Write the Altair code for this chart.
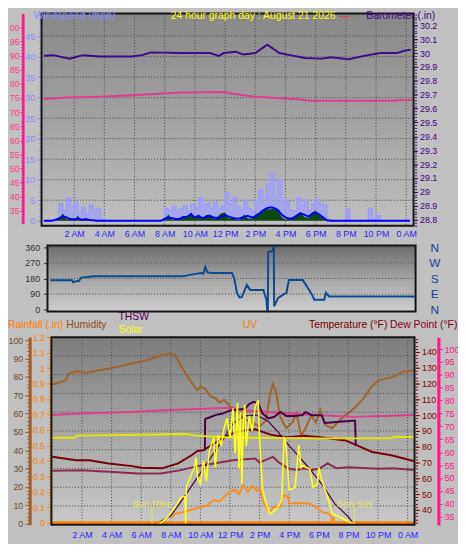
import altair as alt
import pandas as pd

FONT = "Liberation Sans"
W, H = 456, 536          # whole drawing (autosize none, padding 0)
M = 8                    # page margin: page coordinate = chart coordinate + 8

# ---------------- data ----------------
TICK_HOURS = [2, 4, 6, 8, 10, 12, 14, 16, 18, 20, 22, 24]

# top panel ------------------------------------------------------------
BARO_T = [0, 0.6, 1.7, 2.6, 3.7, 5.8, 6.5, 7.1, 9.0, 11.0, 11.6, 11.9, 12.7, 13.2, 14.0,
          14.8, 15.6, 16.3, 17.3, 18.4, 19.0, 20.2, 21.2, 22.3, 23.4, 23.8, 24.3]
BARO_V = [29.98, 29.985, 29.96, 29.985, 29.975, 29.975, 29.985, 30.005, 30.0, 30.0, 29.98,
          30.0, 30.01, 29.99, 30.0, 30.06, 30.0, 29.985, 29.965, 29.96, 29.97, 29.955, 29.98,
          30.0, 30.0, 30.015, 30.025]

PINK_T = [0, 1.5, 3.6, 5.8, 7.3, 9.1, 12.0, 12.5, 14.0, 16.6, 17.7, 22.3, 24.4]
PINK_V = [74.6, 75.2, 75.4, 76.0, 76.4, 76.9, 77.1, 76.5, 75.4, 74.6, 74.0, 74.0, 74.3]

# wind, one value per quarter hour
GUST = [0, 0, 0, 0.5, 4.2, 2.5, 5.5, 3.5, 4.5, 2.0, 3.2, 1.5, 3.8, 2.6, 3.0, 0.5,
        0, 0, 0, 0, 0, 0, 0, 0, 0, 0, 0, 0, 0, 0, 0, 0,
        3.0, 2.5, 3.4, 2.2, 2.8, 3.6, 2.4, 4.0, 3.2, 5.5, 3.8, 4.2, 3.0, 4.5, 2.8, 3.6,
        6.8, 4.0, 5.6, 3.5, 2.6, 4.8, 3.0, 2.4, 5.0, 7.5, 4.2, 9.0, 11.4, 6.0, 10.0, 5.0,
        4.8, 2.6, 2.4, 5.5, 3.5, 5.0, 2.5, 4.0, 5.2, 4.0, 3.8, 0.3, 0, 0, 0, 0,
        2.8, 0, 0, 0, 0, 0, 3.0, 0.5, 1.2, 0, 0, 0, 0, 0, 0, 0, 0, 0]
SPEED = [0, 0, 0, 0, 0.5, 1.8, 0.3, 0.6, 0, 1.2, 0, 0.5, 0, 0, 0, 0,
         0, 0, 0, 0, 0, 0, 0, 0, 0, 0, 0, 0, 0, 0, 0, 0,
         0.4, 1.5, 0.2, 0.6, 0.3, 1.2, 0.8, 2.0, 0.5, 1.6, 0.3, 1.4, 1.5, 0.4, 1.0, 1.8,
         2.0, 0.5, 1.0, 0.2, 0.3, 1.5, 0.6, 0.4, 1.5, 2.0, 2.6, 2.8, 2.8, 3.0, 2.5, 1.0,
         0.3, 0.5, 1.0, 1.5, 2.2, 1.0, 0.6, 2.0, 2.5, 1.2, 0.5, 0, 0, 0, 0, 0,
         0, 0, 0, 0, 0, 0, 0, 0, 0, 0, 0, 0, 0, 0, 0, 0, 0, 0]
AVG = [0, 0, 0, 0.2, 0.6, 1.0, 0.8, 0.4, 0.3, 0.6, 0.2, 0.4, 0.2, 0.1, 0, 0,
       0, 0, 0, 0, 0, 0, 0, 0, 0, 0, 0, 0, 0, 0, 0, 0,
       0.5, 0.8, 0.6, 0.4, 0.5, 0.9, 1.0, 1.6, 0.8, 1.2, 0.6, 0.9, 1.2, 0.8, 0.7, 1.0,
       1.4, 1.0, 0.7, 0.5, 0.6, 0.9, 1.2, 0.8, 1.0, 1.6, 2.5, 3.0, 3.3, 3.1, 2.6, 1.5,
       0.8, 0.5, 0.6, 1.2, 1.8, 1.5, 1.0, 1.6, 2.0, 1.5, 0.8, 0.1, 0, 0, 0, 0,
       0, 0, 0, 0, 0, 0, 0, 0, 0, 0, 0, 0, 0, 0, 0, 0, 0, 0]

# middle panel: wind direction (degrees)
DIR_T = [0.04, 1.49, 1.56, 1.82, 1.96, 2.09, 2.49, 2.95, 8.9, 9.23, 9.69, 10.15, 10.28, 10.41,
         10.55, 10.88, 12.2, 12.35, 12.53, 12.7, 12.86, 13.19, 13.41, 14.3, 14.4, 14.5, 14.56,
         14.6, 14.62, 14.91, 15.0, 15.02, 15.29, 15.6, 15.84, 16.01, 16.94, 17.1, 17.27, 17.5,
         17.71, 18.37, 18.48, 18.7, 24.43]
DIR_V = [170, 170, 158, 165, 165, 185, 188, 193, 193, 198, 205, 212, 208, 247,
         215, 212, 211, 180, 97, 70, 72, 143, 114, 114, 86, 60, -10,
         -10, 333, 339, 362, 19, 68, 85, 97, 171, 171, 150, 126, 95,
         57, 57, 97, 76, 76]

# bottom panel ----------------------------------------------------------
HUM_T = [0, 0.9, 1.1, 1.6, 2.3, 3.1, 4.3, 5.3, 6.3, 7.3, 8.0, 8.3, 8.8, 9.3, 9.8, 10.0, 10.3,
         10.7, 11.0, 11.3, 11.6, 12.0, 12.5, 13.0, 13.5, 14.0, 14.4, 14.7, 14.9, 15.1, 15.4,
         15.8, 16.2, 16.5, 16.8, 17.1, 17.5, 17.8, 18.1, 18.4, 18.9, 19.5, 20.4, 21.0, 21.5,
         22.0, 23.0, 23.7, 24.4]
HUM_V = [75.8, 78.1, 81.7, 83.0, 82.3, 83.5, 85.3, 87.1, 88.9, 91.6, 92.8, 91.6, 84.4, 78.1,
         72.7, 74.7, 73.6, 69.3, 68.5, 66.0, 67.4, 64.0, 61.0, 57.0, 55.0, 53.0, 56.0, 70.0,
         76.0, 72.0, 58.0, 52.0, 55.0, 60.0, 48.0, 52.0, 59.0, 55.0, 62.0, 54.0, 52.0, 57.0,
         63.0, 68.0, 74.0, 78.0, 80.0, 82.8, 83.5]

TEMP_T = [0, 1.6, 2.5, 3.8, 5.4, 6.0, 7.4, 8.5, 9.4, 9.8, 10.2, 10.9, 11.5, 12.2, 13.0, 13.7,
          14.8, 15.9, 17.0, 18.1, 19.8, 20.7, 21.6, 22.9, 24.4]
TEMP_V = [73.6, 71.4, 71.4, 69.4, 67.7, 66.7, 66.3, 69.4, 74.6, 77.3, 77.7, 81.9, 85.5, 88.5,
          90.5, 91.0, 87.5, 86.0, 86.9, 86.0, 84.0, 80.4, 76.7, 74.6, 71.0]

THSW_T = [10.3, 10.32, 10.6, 11.0, 11.5, 12.0, 12.5, 13.0, 13.3, 13.6, 13.9, 14.2, 14.6, 15.0,
          15.4, 15.8, 16.3, 16.9, 17.1, 17.5, 18.2, 18.4, 19.0, 19.6, 20.3, 20.45, 20.5]
THSW_V = [77.7, 97.5, 98.5, 100.0, 101.0, 103.0, 103.5, 104.0, 107.0, 108.5, 107.5, 101.0,
          98.0, 99.0, 102.0, 99.5, 99.5, 100.0, 102.0, 100.0, 100.0, 95.0, 95.5, 96.0, 96.5,
          96.5, 80.5]

DEW_T = [0, 2, 3.8, 5.8, 7.3, 8.6, 9.8, 10.9, 12.2, 13.0, 13.7, 14.0, 14.5, 14.9, 15.3, 16.0,
         16.5, 17.0, 17.5, 18.0, 18.6, 19.2, 20.0, 21.0, 22.0, 23.0, 24.4]
DEW_V = [64.8, 65.1, 64.2, 63.1, 63.1, 65.0, 67.7, 69.4, 71.4, 72.0, 72.5, 70.0, 72.0, 73.6,
         70.0, 66.0, 65.2, 66.3, 65.2, 66.0, 69.4, 66.3, 67.0, 66.5, 66.0, 66.3, 65.2]

PINKB_T = [0, 1.8, 5.3, 7.5, 12.0, 12.9, 14.9, 17.1, 20.4, 24.4]
PINKB_V = [74.4, 75.0, 75.6, 76.3, 77.2, 76.3, 75.4, 74.6, 73.7, 74.4]

INHUM_T = [0, 1.5, 1.6, 6.0, 9.1, 9.6, 12.0, 18.0, 22.9, 23.1, 24.4]
INHUM_V = [46.8, 46.8, 48.0, 48.5, 48.9, 48.0, 47.0, 46.5, 46.5, 47.2, 47.2]

SOL_T = [0, 7.2, 7.8, 8.3, 8.7, 8.95, 9.0, 9.05, 9.3, 9.6, 9.7, 9.8, 10.0, 10.2, 10.4, 10.6,
         10.9, 11.0, 11.2, 11.4, 11.6, 11.8, 12.0, 12.2, 12.35, 12.5, 12.6, 12.7, 12.8, 12.9,
         13.0, 13.1, 13.3, 13.5, 13.7, 13.9, 14.0, 14.2, 14.5, 14.7, 14.9, 15.2, 15.5, 15.65,
         15.75, 16.0, 16.4, 16.65, 16.8, 16.9, 17.4, 17.6, 17.9, 18.0, 18.2, 18.7, 18.9, 19.4,
         20.0, 20.4, 24.47]
SOL_V = [0, 0, 42, 95, 147, 150, 5, 200, 250, 305, 358, 252, 216, 342, 231, 394,
         463, 305, 479, 420, 516, 568, 463, 620, 380, 650, 300, 600, 216, 560,
         640, 420, 580, 500, 630, 663, 450, 184, 100, 58, 68, 90, 131, 463,
         450, 184, 200, 426, 305, 316, 295, 200, 216, 305, 237, 121, 58, 42,
         16, 0, 0]

SMAX_T = [6.9, 8.0, 8.9, 9.8, 10.7, 11.6, 12.2, 13.0, 13.8, 14.6, 15.3, 16.0, 16.7, 17.3,
          18.2, 19.1, 20.0, 20.4]
SMAX_V = [0, 47, 147, 252, 358, 463, 540, 580, 585, 550, 490, 420, 360, 305, 216, 110, 42, 0]

UV_T = [8.05, 8.3, 8.9, 9.6, 10.0, 10.4, 10.9, 11.3, 11.6, 12.0, 12.3, 12.6, 12.9, 13.2, 13.5,
        13.8, 14.0, 14.2, 14.4, 14.7, 14.9, 15.4, 15.6, 15.9, 16.0, 16.6, 17.4, 17.8, 18.2,
        18.7, 18.85, 18.9, 19.0, 19.05, 19.5, 20.0]
UV_V = [0.6, 0.93, 1.1, 1.35, 1.5, 1.6, 2.1, 2.0, 2.4, 2.8, 3.0, 2.6, 3.4, 2.8, 3.3,
        2.9, 3.1, 2.1, 1.5, 1.1, 1.5, 1.5, 2.5, 2.4, 1.8, 1.85, 1.8, 1.5, 1.1,
        0.93, 0.67, 0.15, 0.67, 0.15, 0.15, 0.0]

RAIN_T = [0, 24.47]
RAIN_V = [0, 0]

SUN_T = [6.73, 20.4]
SUN_LABEL = ["Sun Rise", "Sun Set"]

# ---------------- helpers ----------------
def xscale(domain, p0, p1):
    return alt.Scale(domain=domain, range=[p0 - M, p1 - M], nice=False, zero=False)


def yscale(domain, p_bottom, p_top):
    return alt.Scale(domain=domain, range=[p_bottom - M, p_top - M], nice=False, zero=False)


def series(t, v, xs, ys, kind="line", **mk):
    df = pd.DataFrame({"t": t, "v": v})
    ch = alt.Chart(df)
    ch = ch.mark_area(**mk) if kind == "area" else ch.mark_line(**mk)
    return ch.encode(x=alt.X("t:Q", scale=xs, axis=None), y=alt.Y("v:Q", scale=ys, axis=None))


def panel_rect(xs, ys, xd, yd, **mk):
    df = pd.DataFrame({"x0": [xd[0]], "x1": [xd[1]], "y0": [yd[0]], "y1": [yd[1]]})
    return alt.Chart(df).mark_rect(**mk).encode(
        x=alt.X("x0:Q", scale=xs, axis=None), x2="x1",
        y=alt.Y("y1:Q", scale=ys, axis=None), y2="y0")


def grad(stops):
    return {"gradient": "linear", "x1": 0, "y1": 0, "x2": 0, "y2": 1,
            "stops": [{"offset": o, "color": c} for o, c in stops]}


GRIDC = "#4a4a4a"


def vgrid(xs, ys, yd):
    df = pd.DataFrame({"t": TICK_HOURS, "y0": yd[0], "y1": yd[1]})
    return alt.Chart(df).mark_rule(color=GRIDC, strokeDash=[1, 2], strokeWidth=1).encode(
        x=alt.X("t:Q", scale=xs, axis=None),
        y=alt.Y("y1:Q", scale=ys, axis=None), y2="y0")


def hgrid(xs, ys, xd, values):
    df = pd.DataFrame({"v": values, "x0": xd[0], "x1": xd[1]})
    return alt.Chart(df).mark_rule(color=GRIDC, strokeDash=[1, 2], strokeWidth=1).encode(
        x=alt.X("x0:Q", scale=xs, axis=None), x2="x1",
        y=alt.Y("v:Q", scale=ys, axis=None))


def yaxis(ys, val, **ax):
    df = pd.DataFrame({"v": [val]})
    return alt.Chart(df).mark_point(opacity=0).encode(
        y=alt.Y("v:Q", scale=ys, axis=alt.Axis(title=None, grid=False, labelFont=FONT,
                                               labelOverlap=False, **ax)))


def xaxis(xs, val, **ax):
    df = pd.DataFrame({"t": [val]})
    return alt.Chart(df).mark_point(opacity=0).encode(
        x=alt.X("t:Q", scale=xs, axis=alt.Axis(title=None, grid=False, labelFont=FONT,
                                               labelOverlap=False, labelFlush=False, **ax)))


ONE = pd.DataFrame({"a": [0]})


def text(s, px, py, color, size=10.5, align="left", baseline="middle"):
    return alt.Chart(ONE).mark_text(text=s, color=color, fontSize=size, font=FONT,
                                    align=align, baseline=baseline).encode(
        x=alt.value(px - M), y=alt.value(py - M))


def off_left(px):
    return -(px - M)


def off_right(px):
    return -(W + M - px)


def off_bottom(py):
    return -(H + M - py)


HOUR_LABEL = ("datum.value == 24 ? '0 AM' : datum.value < 12 ? datum.value + ' AM' : "
              "datum.value == 12 ? '12 PM' : (datum.value - 12) + ' PM'")

# ---------------- scales ----------------
TXD = [-0.157, 24.49]
TX = xscale(TXD, 42, 419)
WD = [-1.2, 50.5]
Y_WIND = yscale(WD, 225, 10)
BD = [28.757, 30.285]
Y_BARO = yscale(BD, 225, 10)
PD_ = [30.5, 104.9]
Y_PINK = yscale(PD_, 223, 10)

MXD = [-0.157, 24.49]
MX = xscale(MXD, 48, 421)
DD = [-11, 371]
Y_DIR = yscale(DD, 312, 245)

BXD = [-0.067, 24.47]
BX = xscale(BXD, 52, 420)
HD = [-0.5, 101.6]
Y_HUM = yscale(HD, 528, 338)
RD = [-0.0128, 1.2]
Y_RAIN = yscale(RD, 528, 338)
TD = [30.6, 149.4]
Y_TEMP = yscale(TD, 528, 338)
DWD = [31.9, 104.6]
Y_DEW = yscale(DWD, 528, 338)
SD = [0, 1000]
Y_SOL = yscale(SD, 528, 338)
UD = [0, 16]
Y_UV = yscale(UD, 528, 338)
GD = [0, 10]
Y_GRID = yscale(GD, 528, 338)

QT = [i * 0.25 for i in range(len(GUST))]

layers = []

# ---------------- top panel ----------------
layers += [
    panel_rect(TX, Y_WIND, TXD, WD, fill=grad([(0, "#888888"), (0.5, "#a2a2a2"), (1, "#c0c0c0")])),
    vgrid(TX, Y_WIND, WD),
    hgrid(TX, Y_WIND, TXD, [5, 10, 15, 20, 25, 30, 35, 40, 45]),
    series(QT, GUST, TX, Y_WIND, kind="area", color="#9c9cff", interpolate="step-after",
           line={"color": "#9c9cff", "strokeWidth": 1.5}),
    series(QT, SPEED, TX, Y_WIND, kind="area", color="#0d4a0d"),
    series(QT, AVG, TX, Y_WIND, color="#0000ff", strokeWidth=2),
    series(BARO_T, BARO_V, TX, Y_BARO, color="#3c0a8c", strokeWidth=2),
    series(PINK_T, PINK_V, TX, Y_PINK, color="#e23c8c", strokeWidth=2),
    panel_rect(TX, Y_WIND, TXD, WD, filled=False, color="#151515", strokeWidth=2),
]

# ---------------- middle panel ----------------
layers += [
    panel_rect(MX, Y_DIR, MXD, DD, fill=grad([(0, "#6c6c6c"), (0.5, "#a4a4a4"), (1, "#cfcfcf")])),
    hgrid(MX, Y_DIR, MXD, [90, 180, 270, 360]),
    series(DIR_T, DIR_V, MX, Y_DIR, color="#0b4a8e", strokeWidth=2),
    panel_rect(MX, Y_DIR, MXD, DD, filled=False, color="#151515", strokeWidth=2),
]

# ---------------- bottom panel ----------------
layers += [
    panel_rect(BX, Y_GRID, BXD, GD, fill=grad([(0, "#7c7c7c"), (0.5, "#a6a6a6"), (1, "#c8c8c8")])),
    vgrid(BX, Y_GRID, GD),
    hgrid(BX, Y_GRID, BXD, [1, 2, 3, 4, 5, 6, 7, 8, 9]),
    series(HUM_T, HUM_V, BX, Y_HUM, color="#a0642d", strokeWidth=2),
    series(DEW_T, DEW_V, BX, Y_TEMP, color="#8c2a52", strokeWidth=2),
    series(PINKB_T, PINKB_V, BX, Y_DEW, color="#e23c8c", strokeWidth=2),
    series(TEMP_T, TEMP_V, BX, Y_TEMP, color="#780008", strokeWidth=2),
    series(THSW_T, THSW_V, BX, Y_TEMP, color="#4b0046", strokeWidth=2),
    series(SMAX_T, SMAX_V, BX, Y_SOL, color="#4b0046", strokeWidth=1.2),
    series(INHUM_T, INHUM_V, BX, Y_HUM, color="#e6e600", strokeWidth=2),
    series(RAIN_T, RAIN_V, BX, Y_RAIN, color="#ff8000", strokeWidth=3),
    series(UV_T, UV_V, BX, Y_UV, color="#ff8c1a", strokeWidth=1.8),
    series(SOL_T, SOL_V, BX, Y_SOL, color="#ffff1a", strokeWidth=1.6),
]
sun_df = pd.DataFrame({"t": SUN_T, "lab": SUN_LABEL, "lo": [-10, -10], "hi": [95, 95],
                       "ty": [112, 112]})
layers += [
    alt.Chart(sun_df).mark_rule(color="#e8e85a", strokeWidth=1).encode(
        x=alt.X("t:Q", scale=BX, axis=None), y=alt.Y("hi:Q", scale=Y_SOL, axis=None), y2="lo"),
    alt.Chart(sun_df).mark_text(color="#e8e85a", fontSize=10, font=FONT).encode(
        x=alt.X("t:Q", scale=BX, axis=None), y=alt.Y("ty:Q", scale=Y_SOL, axis=None),
        text="lab:N"),
    panel_rect(BX, Y_GRID, BXD, GD, filled=False, color="#151515", strokeWidth=2),
]

# ---------------- axes ----------------
def rng(a, b, step):
    out, k = [], 0
    while a + k * step <= b + 1e-9:
        out.append(round(a + k * step, 3))
        k += 1
    return out


LBL = 9
TWO_DIGITS = "datum.value >= 100 ? format(datum.value - 100, '02d') : datum.label"
layers += [
    # top left: windspeed
    yaxis(Y_WIND, 0, orient="left", offset=off_left(42), values=rng(0, 45, 5), domain=False,
          tickColor="#8c8cff", tickSize=5, labelColor="#8c8cff", labelFontSize=LBL, labelPadding=2),
    yaxis(Y_WIND, 0, orient="left", offset=off_left(41), values=rng(0, 50, 1), domain=False,
          labels=False, tickColor="#8c8cff", tickSize=2),
    # top far left: pink scale
    yaxis(Y_PINK, 50, orient="left", offset=off_left(23), values=rng(35, 100, 5), domain=True,
          domainColor="#ff1a8c", domainWidth=2.5, tickColor="#ff1a8c", tickSize=3,
          labelColor="#ff3a8c", labelFontSize=8.5, labelPadding=1, labelExpr=TWO_DIGITS),
    yaxis(Y_PINK, 50, orient="left", offset=off_left(23), values=rng(31, 104, 1), domain=False,
          labels=False, tickColor="#ff1a8c", tickSize=2),
    # top right: barometer
    yaxis(Y_BARO, 29.5, orient="right", offset=off_right(419), values=rng(28.8, 30.2, 0.1),
          domain=False, tickColor="#400080", tickSize=4, labelColor="#400080",
          labelFontSize=LBL, labelPadding=2, format="~g"),
    yaxis(Y_BARO, 29.5, orient="right", offset=off_right(420), values=rng(28.76, 30.28, 0.02),
          domain=False, labels=False, tickColor="#400080", tickSize=2),
    # top time axis
    xaxis(TX, 12, orient="bottom", offset=off_bottom(225), values=TICK_HOURS, domain=False,
          ticks=False, tickSize=0, labelColor="#2626ff", labelFontSize=LBL, labelPadding=4,
          labelExpr=HOUR_LABEL),
    # middle
    yaxis(Y_DIR, 180, orient="left", offset=off_left(48), values=[0, 90, 180, 270, 360],
          domain=False, tickColor="#303030", tickSize=4, labelColor="#303030",
          labelFontSize=LBL, labelPadding=4),
    yaxis(Y_DIR, 180, orient="right", offset=off_right(421), values=[0, 90, 180, 270, 360],
          domain=False, ticks=False, tickSize=0, labelColor="#1c3c94", labelFontSize=12,
          labelPadding=19, labelAlign="center",
          labelExpr="datum.value == 90 ? 'E' : datum.value == 180 ? 'S' : datum.value == 270 ? 'W' : 'N'"),
    # bottom left: humidity
    yaxis(Y_HUM, 50, orient="left", offset=off_left(30), values=rng(0, 100, 10), domain=True,
          domainColor="#9c5f28", domainWidth=3, tickColor="#9c5f28", tickSize=5,
          labelColor="#6e4a2a", labelFontSize=LBL, labelPadding=2),
    yaxis(Y_HUM, 50, orient="left", offset=off_left(30), values=rng(0, 100, 2), domain=False,
          labels=False, tickColor="#9c5f28", tickSize=3),
    # bottom left: rainfall
    yaxis(Y_RAIN, 0.5, orient="left", offset=off_left(51), values=rng(0, 1.2, 0.1), domain=False,
          tickColor="#ff8000", tickSize=4, labelColor="#ff8000", labelFontSize=LBL,
          labelPadding=2, format="~g"),
    yaxis(Y_RAIN, 0.5, orient="left", offset=off_left(51), values=rng(0, 1.2, 0.02),
          domain=False, labels=False, tickColor="#ff8000", tickSize=2),
    # bottom right: temperature
    yaxis(Y_TEMP, 80, orient="right", offset=off_right(421), values=rng(40, 140, 10),
          domain=False, tickColor="#800000", tickSize=4, labelColor="#800000",
          labelFontSize=LBL, labelPadding=2),
    yaxis(Y_TEMP, 80, orient="right", offset=off_right(421), values=rng(32, 148, 2),
          domain=False, labels=False, tickColor="#800000", tickSize=2),
    # bottom right: dew point (pink)
    yaxis(Y_DEW, 60, orient="right", offset=off_right(444), values=rng(35, 100, 5), domain=True,
          domainColor="#ff1a8c", domainWidth=3, tickColor="#ff1a8c", tickSize=4,
          labelColor="#ff1a8c", labelFontSize=LBL, labelPadding=2),
    yaxis(Y_DEW, 60, orient="right", offset=off_right(444), values=rng(32, 104, 1), domain=False,
          labels=False, tickColor="#ff1a8c", tickSize=2),
    # bottom time axis
    xaxis(BX, 12, orient="bottom", offset=off_bottom(528), values=TICK_HOURS, domain=False,
          ticks=False, tickSize=0, labelColor="#2626ff", labelFontSize=LBL, labelPadding=6,
          labelExpr=HOUR_LABEL),
]

# ---------------- titles ----------------
layers += [
    text("Windspeed (mph)", 34, 8, "#8c8cff", baseline="top"),
    text("24 hour graph day : August 21 2026", 173, 8, "#ffff00", baseline="top"),
    text("---", 344, 8, "#ff2a2a", baseline="top"),
    text("Barometer (.in)", 371, 8, "#40087f", baseline="top"),
    text("Rainfall (.in)", 8, 326, "#ff8000", size=10.5),
    text("Humidity", 67, 326, "#8a4f1d", size=10.5),
    text("THSW", 120, 318, "#500050", size=10.5),
    text("Solar", 120, 331, "#ffff00", size=10.5),
    text("UV", 246, 326, "#ff8000", size=10.5),
    text("Temperature (°F)", 313, 326, "#7a0000", size=10.5),
    text("Dew Point (°F)", 395, 326, "#8b0022", size=10.5),
]

chart = alt.layer(*layers).resolve_scale(x="independent", y="independent").properties(
    width=W, height=H, padding=0, background="#c0c0c0",
    autosize=alt.AutoSizeParams(type="none"),
).configure_view(stroke=None)

chart.save("out.html", embed_options={"renderer": "svg", "actions": False})
